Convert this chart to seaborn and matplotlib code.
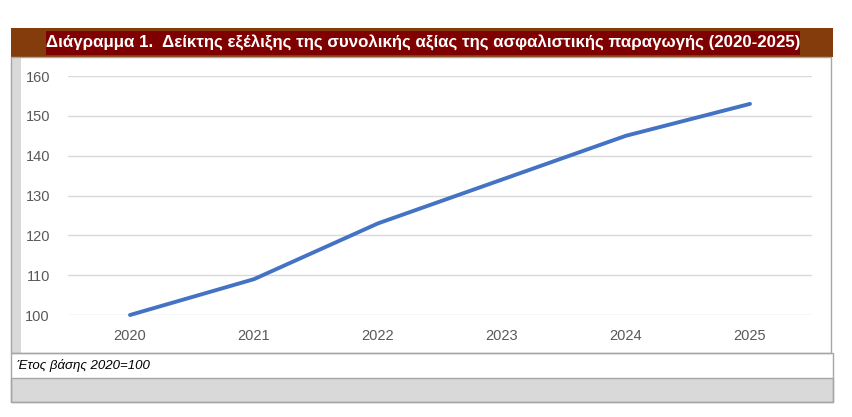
import pandas as pd
import matplotlib
matplotlib.use("Agg")
import matplotlib.pyplot as plt
import seaborn as sns
from matplotlib.patches import Rectangle

years = ["2020", "2021", "2022", "2023", "2024", "2025"]
index_values = [100, 109, 123, 134, 145, 153]
y_ticks = [100, 110, 120, 130, 140, 150, 160]

title = "Διάγραμμα 1.  Δείκτης εξέλιξης της συνολικής αξίας της ασφαλιστικής παραγωγής (2020-2025)"
note = "Έτος βάσης 2020=100"

df = pd.DataFrame({"year": years, "value": index_values})

sns.set_style("white")
plt.rcParams["font.family"] = ["Liberation Sans", "DejaVu Sans"]

W, H = 852, 417
fig = plt.figure(figsize=(W / 100, H / 100), dpi=100)
fig.patch.set_facecolor("white")


def px_rect(x0, y0, x1, y1, **kw):
    # rectangle given in pixel coords (top-left origin)
    r = Rectangle((x0 / W, 1 - y1 / H), (x1 - x0) / W, (y1 - y0) / H,
                  transform=fig.transFigure, **kw)
    fig.patches.append(r)


# frame pieces
px_rect(11, 28, 833, 57, facecolor="#843C0C", edgecolor="none")
px_rect(46, 31, 800, 55, facecolor="#7F0000", edgecolor="none")
px_rect(11, 57, 21, 353, facecolor="#D9D9D9", edgecolor="none")
px_rect(11, 378, 833, 402, facecolor="#D9D9D9", edgecolor="none")
px_rect(11, 57, 831, 353, facecolor="none", edgecolor="#A6A6A6", lw=1)
px_rect(11, 353, 833, 402, facecolor="none", edgecolor="#A6A6A6", lw=1)
px_rect(11, 378, 833, 402, facecolor="none", edgecolor="#A6A6A6", lw=1)

fig.text(423 / W, 1 - 43 / H, title, color="white", fontsize=12.2, fontweight="bold",
         ha="center", va="center")
fig.text(17 / W, 1 - 366 / H, note, color="black", fontsize=9.5, style="italic",
         ha="left", va="center")

ax = fig.add_axes([68 / W, 1 - 315 / H, 744 / W, 239 / H])
ax.set_facecolor("none")
sns.lineplot(data=df, x="year", y="value", ax=ax, color="#4472C4", lw=2.8,
             sort=False, clip_on=False)

ax.set_xlim(-0.5, len(years) - 0.5)
ax.set_ylim(100, 160)
ax.set_yticks(y_ticks)
ax.yaxis.grid(True, color="#D9D9D9", lw=1)
ax.set_axisbelow(True)
for s in ax.spines.values():
    s.set_visible(False)
ax.tick_params(axis="y", length=0, pad=13, labelsize=10.5, labelcolor="#595959")
ax.tick_params(axis="x", length=0, pad=10, labelsize=10.5, labelcolor="#595959")
ax.set_xlabel("")
ax.set_ylabel("")

fig.savefig("out.png", dpi=100)
